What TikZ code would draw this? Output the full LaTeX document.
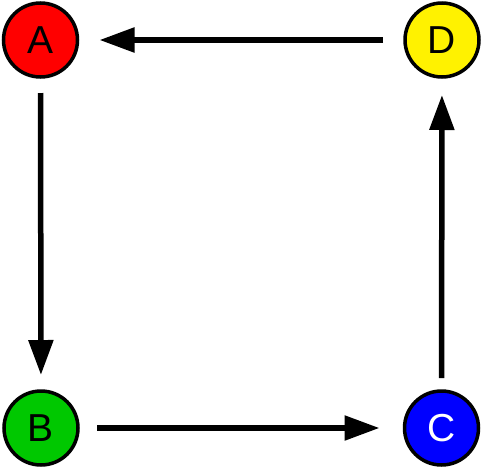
\documentclass[tikz,border=0pt]{standalone}
\usepackage{fontspec}
\setmainfont{Liberation Sans}
\usetikzlibrary{arrows.meta}
\definecolor{nodegreen}{HTML}{00C800}
\tikzset{
  state/.style={circle,draw=black,line width=3.5pt,minimum size=74pt,inner sep=0pt,outer sep=0pt,
    font=\fontsize{39}{39}\selectfont},
  flow/.style={line width=5.5pt,-{Triangle[length=35pt,width=24pt]}}
}
\begin{document}
\begin{tikzpicture}[x=1pt,y=-1pt]
			\useasboundingbox (0,0) rectangle (484,469);
			\node[state,fill=red] (A) at (40.5,40) {A};
			\node[state,fill=yellow] (D) at (442,40) {D};
			\node[state,fill=nodegreen] (B) at (41,428) {B};
			\node[state,fill=blue,text=white] (C) at (441.5,428) {C};
			\draw[flow,shorten <=16pt,shorten >=16pt] (A) -- (B);
			\draw[flow,shorten <=19pt,shorten >=25pt] (B) -- (C);
			\draw[flow,shorten <=13pt,shorten >=18pt] (C) -- (D);
			\draw[flow,shorten <=22pt,shorten >=22pt] (D) -- (A);
		\end{tikzpicture}
\end{document}
